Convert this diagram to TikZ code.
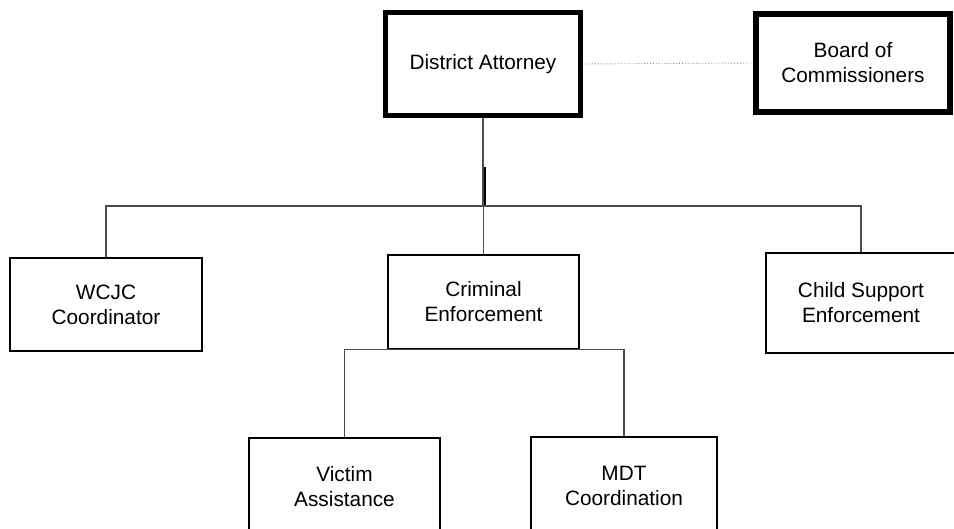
\documentclass[tikz,border=0pt]{standalone}
\usepackage{fontspec}
\setmainfont{Liberation Sans}
\begin{document}
\begin{tikzpicture}[x=1pt,y=-1pt,
  box/.style={draw=black,line width=1.3pt,fill=white,align=center,inner sep=0pt,
    font=\fontsize{20.8}{25}\selectfont},
  topbox/.style={box,line width=5.5pt},
  conn/.style={draw=black!70,line width=1.2pt},
  rel/.style={draw=black!45,line width=0.9pt,dotted}]
\useasboundingbox (0,0) rectangle (954,529);
\clip (0,0) rectangle (954,529);
\node[topbox,minimum width=195pt,minimum height=103pt] (DA) at (483,64) {District Attorney};
\node[topbox,minimum width=194pt,minimum height=98pt] (BC) at (853,63) {Board of\\Commissioners};
\node[box,minimum width=192pt,minimum height=93pt] (WC) at (106,304.5) {WCJC\\Coordinator};
\node[box,minimum width=191pt,minimum height=94pt] (CE) at (483.5,302) {Criminal\\Enforcement};
\node[box,minimum width=190pt,minimum height=100pt] (CS) at (861,303) {Child Support\\Enforcement};
\node[box,minimum width=191pt,minimum height=98pt] (VA) at (344.5,487) {Victim\\Assistance};
\node[box,minimum width=186pt,minimum height=98pt] (MD) at (624,486) {MDT\\Coordination};
\coordinate (j1) at (485,206);
\draw[rel] (DA.east) -- (BC.west);
\draw[conn] (DA.south) -- (DA.south |- j1);
\draw[black,line width=2.2pt] (485,167) -- (j1);
\draw[conn] (WC.north) -- (WC.north |- j1) -- (CS.north |- j1) -- (CS.north);
\draw[conn] (CE.north) -- (CE.north |- j1);
\draw[conn] (VA.north) -- (VA.north |- CE.south) -- (MD.north |- CE.south) -- (MD.north);
\end{tikzpicture}
\end{document}
